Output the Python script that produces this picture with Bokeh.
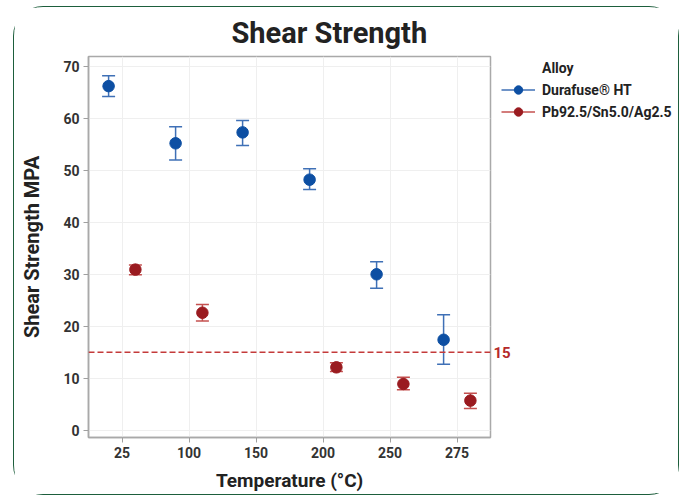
from bokeh.plotting import figure
from bokeh.layouts import row
from bokeh.models import (ColumnDataSource, FactorRange, Range1d, Whisker, TeeHead,
                          Span, Label, Legend, LegendItem)
from bokeh.transform import dodge
from bokeh.embed import file_html
from bokeh.resources import INLINE

# ---- data ----
temps = ["25", "100", "150", "200", "250", "275"]

legend_title = "Alloy"
dura_label = "Durafuse® HT"
dura_temps = ["25", "100", "150", "200", "250", "275"]
dura_mean = [66.2, 55.2, 57.3, 48.2, 30.0, 17.4]
dura_lower = [64.2, 52.0, 54.8, 46.3, 27.3, 12.7]
dura_upper = [68.2, 58.4, 59.6, 50.3, 32.4, 22.2]

pb_label = "Pb92.5/Sn5.0/Ag2.5"
pb_temps = ["25", "100", "200", "250", "275"]
pb_mean = [30.9, 22.6, 12.1, 8.9, 5.7]
pb_lower = [29.9, 21.0, 11.3, 7.8, 4.2]
pb_upper = [31.8, 24.2, 13.0, 10.2, 7.1]

ref_level = 15
y_ticks = [0, 10, 20, 30, 40, 50, 60, 70]

# ---- style ----
FONT = "Roboto"
BLUE = "#0d4fa3"
BLUE_BAR = "#3f70b6"
RED = "#9a1b20"
RED_BAR = "#c4504f"
TXT = "#222222"

p = figure(x_range=FactorRange(factors=temps), y_range=Range1d(-1.4, 71.9),
           frame_width=402, frame_height=381,
           min_border_left=74, min_border_right=2, min_border_top=48, min_border_bottom=57,
           output_backend="svg", toolbar_location=None, title="Shear Strength",
           background_fill_color="white", border_fill_color="white")

p.title.align = "left"
p.title.offset = 143
p.title.text_font = FONT
p.title.text_font_size = "29px"
p.title.text_font_style = "bold"
p.title.text_color = TXT
p.title.standoff = 13

p.outline_line_color = "#a9a9a9"
p.outline_line_width = 1.5
p.outline_line_alpha = 1.0

p.xgrid.grid_line_color = "#efefef"
p.ygrid.grid_line_color = "#efefef"

p.yaxis.ticker = y_ticks
for ax in (p.xaxis[0], p.yaxis[0]):
    ax.axis_line_color = "#a9a9a9"
    ax.axis_line_width = 1.5
    ax.major_tick_line_color = "#a0a0a0"
    ax.major_tick_out = 5
    ax.major_tick_in = 0
    ax.minor_tick_line_color = None
    ax.major_label_text_font = FONT
    ax.major_label_text_font_style = "bold"
    ax.major_label_text_font_size = "14px"
    ax.major_label_text_color = "#333333"
    ax.major_label_standoff = 4
    ax.axis_label_text_font = FONT
    ax.axis_label_text_font_style = "bold"
    ax.axis_label_text_font_size = "19px"
    ax.axis_label_text_color = TXT

p.yaxis.axis_label_text_font_size = "20px"
p.xaxis.axis_label = "Temperature (°C)"
p.yaxis.axis_label = "Shear Strength MPA"
p.xaxis.axis_label_standoff = 8
p.yaxis.axis_label_standoff = 16

p.add_layout(Span(location=ref_level, dimension="width", line_color="#c43a3a",
                  line_dash="6 3", line_width=1.3))

def series(tlist, mean, lower, upper, off, col, barcol):
    src = ColumnDataSource(dict(t=tlist, mean=mean, lower=lower, upper=upper))
    xs = dodge("t", off, range=p.x_range)
    w = Whisker(base=xs, upper="upper", lower="lower", source=src,
                line_color=barcol, line_width=1.5,
                upper_head=TeeHead(size=13, line_color=barcol, line_width=1.5),
                lower_head=TeeHead(size=13, line_color=barcol, line_width=1.5))
    p.add_layout(w)
    p.scatter(x=xs, y="mean", source=src, size=11.5, fill_color=col, line_color=col)
    return src

src_d = series(dura_temps, dura_mean, dura_lower, dura_upper, -0.2, BLUE, BLUE_BAR)
src_p = series(pb_temps, pb_mean, pb_lower, pb_upper, 0.2, RED, RED_BAR)

# ---- side panel: reference value label + legend (shares the y scale) ----
side_w = 186
q = figure(x_range=Range1d(0, side_w), y_range=p.y_range,
           frame_width=side_w, frame_height=381,
           min_border_left=0, min_border_right=0, min_border_top=48, min_border_bottom=57,
           x_axis_location=None, y_axis_location=None,
           output_backend="svg", toolbar_location=None,
           background_fill_color="white", border_fill_color="white")
q.outline_line_color = None
q.grid.visible = False

q.add_layout(Label(x=1, y=ref_level, text=str(ref_level), text_color="#b52a2a",
                   text_font=FONT, text_font_style="bold", text_font_size="15px",
                   text_baseline="middle", text_align="left"))

# legend-only renderers (hidden in the side panel), fed by the series data
l1 = q.line(x="mean", y="mean", source=src_d, line_color=BLUE_BAR, line_width=1.5, visible=False)
m1 = q.scatter(x="mean", y="mean", source=src_d, size=10, fill_color=BLUE, line_color=BLUE, visible=False)
l2 = q.line(x="mean", y="mean", source=src_p, line_color=RED_BAR, line_width=1.5, visible=False)
m2 = q.scatter(x="mean", y="mean", source=src_p, size=10, fill_color=RED, line_color=RED, visible=False)

legend = Legend(items=[LegendItem(label=legend_title, renderers=[]),
                       LegendItem(label=dura_label, renderers=[l1, m1]),
                       LegendItem(label=pb_label, renderers=[l2, m2])],
                location=(9, 315), border_line_color=None, background_fill_alpha=0,
                label_text_font=FONT, label_text_font_style="bold", label_text_font_size="14px",
                label_text_color=TXT, glyph_width=34, glyph_height=21, label_height=21,
                spacing=1, padding=0, margin=0, label_standoff=7)
q.add_layout(legend)

layout = row(p, q, spacing=0)
layout.styles = {"border": "1.5px solid #1d5e3c", "border-radius": "30px",
                 "margin-left": "13px", "margin-top": "6px"}

open("out.html", "w").write(file_html(layout, INLINE))
